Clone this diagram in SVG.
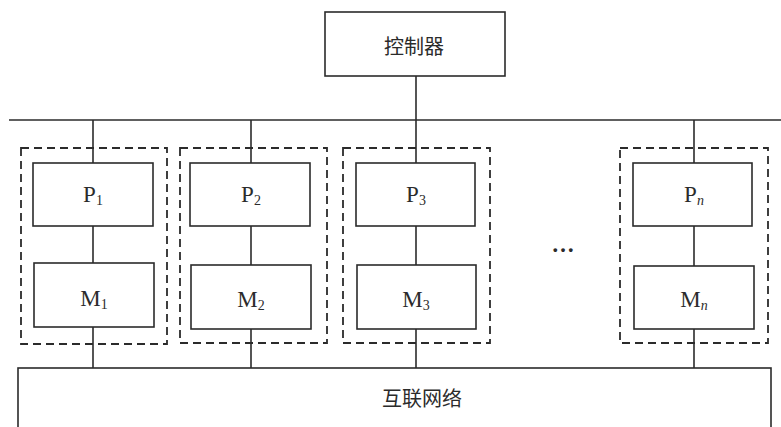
<svg xmlns="http://www.w3.org/2000/svg" width="781" height="427" viewBox="0 0 781 427">
<style>
.box{fill:none;stroke:#2b2b2b;stroke-width:1.6}
.grp{fill:none;stroke:#2b2b2b;stroke-width:1.8;stroke-dasharray:8,5}
.ln{stroke:#2b2b2b;stroke-width:1.6;fill:none}
.cn{font-family:"Noto Sans CJK SC","Noto Sans CJK JP",sans-serif;font-size:20px;fill:#2b2b2b}
.lb{font-family:"Liberation Serif","DejaVu Serif",serif;font-size:23px;fill:#2b2b2b;text-anchor:middle}
.sub{font-size:14px}
</style>
<rect width="781" height="427" fill="#fff"/>
<g id="connectors">
<line class="ln" x1="9" y1="120" x2="781" y2="120"/>
<line class="ln" x1="416" y1="76" x2="416" y2="163"/>
<line class="ln" x1="93" y1="120" x2="93" y2="163"/>
<line class="ln" x1="251" y1="120" x2="251" y2="163"/>
<line class="ln" x1="694" y1="120" x2="694" y2="163"/>
<line class="ln" x1="93" y1="226" x2="93" y2="263"/>
<line class="ln" x1="251" y1="226" x2="251" y2="265"/>
<line class="ln" x1="416" y1="226" x2="416" y2="265"/>
<line class="ln" x1="694" y1="226" x2="694" y2="266"/>
<line class="ln" x1="93" y1="327" x2="93" y2="368"/>
<line class="ln" x1="251" y1="329" x2="251" y2="368"/>
<line class="ln" x1="416" y1="329" x2="416" y2="368"/>
<line class="ln" x1="694" y1="329" x2="694" y2="368"/>
</g>
<g id="controller">
<rect class="box" x="325" y="12" width="180" height="64"/>
<text class="cn" x="414" y="54" text-anchor="middle">控制器</text>
</g>
<g id="group1">
<rect class="grp" x="21" y="148" width="146" height="196"/>
</g>
<g id="group2">
<rect class="grp" x="180" y="148" width="147" height="195"/>
</g>
<g id="group3">
<rect class="grp" x="343" y="148" width="147" height="195"/>
</g>
<g id="groupn">
<rect class="grp" x="620" y="148" width="148" height="195"/>
</g>
<g id="P1"><rect class="box" x="33" y="163" width="120" height="63"/><text class="lb" x="93" y="202">P<tspan class="sub" dy="3">1</tspan></text></g>
<g id="P2"><rect class="box" x="190" y="163" width="120" height="63"/><text class="lb" x="251" y="202">P<tspan class="sub" dy="3">2</tspan></text></g>
<g id="P3"><rect class="box" x="356" y="163" width="119" height="63"/><text class="lb" x="416" y="202">P<tspan class="sub" dy="3">3</tspan></text></g>
<g id="Pn"><rect class="box" x="633" y="163" width="119" height="63"/><text class="lb" x="694" y="202">P<tspan class="sub" dy="3" font-style="italic">n</tspan></text></g>
<g id="M1"><rect class="box" x="34" y="263" width="120" height="64"/><text class="lb" x="94" y="306">M<tspan class="sub" dy="3">1</tspan></text></g>
<g id="M2"><rect class="box" x="191" y="265" width="120" height="64"/><text class="lb" x="251" y="307">M<tspan class="sub" dy="3">2</tspan></text></g>
<g id="M3"><rect class="box" x="357" y="265" width="119" height="64"/><text class="lb" x="416" y="307">M<tspan class="sub" dy="3">3</tspan></text></g>
<g id="Mn"><rect class="box" x="634" y="266" width="120" height="63"/><text class="lb" x="694" y="307">M<tspan class="sub" dy="3" font-style="italic">n</tspan></text></g>
<g id="ellipsis"><text class="lb" x="563" y="252" font-size="20" font-weight="bold">…</text></g>
<g id="network">
<rect class="box" x="18" y="368" width="753" height="80"/>
<text class="cn" x="422" y="406" text-anchor="middle">互联网络</text>
</g>
</svg>
